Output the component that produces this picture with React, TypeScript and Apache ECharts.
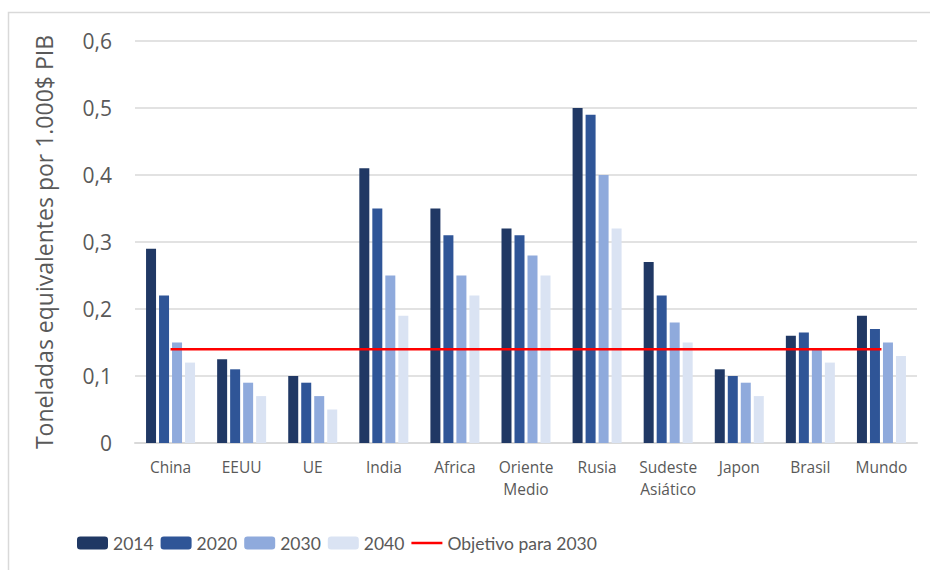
import React, { useEffect, useRef } from "react";
import * as echarts from "echarts";

const categories = ["China", "EEUU", "UE", "India", "Africa", "Oriente\nMedio", "Rusia", "Sudeste\nAsiático", "Japon", "Brasil", "Mundo"];
const s2014 = [0.29, 0.125, 0.10, 0.41, 0.35, 0.32, 0.50, 0.27, 0.11, 0.16, 0.19];
const s2020 = [0.22, 0.11, 0.09, 0.35, 0.31, 0.31, 0.49, 0.22, 0.10, 0.165, 0.17];
const s2030 = [0.15, 0.09, 0.07, 0.25, 0.25, 0.28, 0.40, 0.18, 0.09, 0.14, 0.15];
const s2040 = [0.12, 0.07, 0.05, 0.19, 0.22, 0.25, 0.32, 0.15, 0.07, 0.12, 0.13];
const objetivo = [0.14, 0.14, 0.14, 0.14, 0.14, 0.14, 0.14, 0.14, 0.14, 0.14, 0.14];
const seriesNames = ["2014", "2020", "2030", "2040"];
const lineName = "Objetivo para 2030";
const yTitle = "Toneladas equivalentes por 1.000$ PIB";

export default function App() {
  const ref = useRef<HTMLDivElement>(null);
  useEffect(() => {
    if (!ref.current) return;
    const chart = echarts.init(ref.current, null, { renderer: "svg" });
    const colors = ["#203864", "#2F5597", "#8FAADC", "#DAE3F3"];
    const barData = [s2014, s2020, s2030, s2040];
    const font = "'Open Sans', 'Noto Sans', sans-serif";
    chart.setOption({
      animation: false,
      backgroundColor: "#ffffff",
      graphic: [
        {
          type: "rect",
          shape: { x: 8.5, y: 12.5, width: 940, height: 580 },
          style: { fill: "none", stroke: "#D9D9D9", lineWidth: 1.5 },
          silent: true,
        },
      ],
      grid: { left: 135, right: 13, top: 41, bottom: 127 },
      legend: {
        left: 77,
        top: 534,
        padding: 0,
        itemWidth: 31,
        itemHeight: 13,
        itemGap: 7,
        textStyle: { fontFamily: "Lato, 'Open Sans', sans-serif", fontSize: 17.5, color: "#595959" },
        data: [
          ...seriesNames,
          { name: lineName, icon: "path://M0,0 L31,0 L31,2.5 L0,2.5 Z" },
        ],
      },
      xAxis: {
        type: "category",
        data: categories,
        axisLine: { lineStyle: { color: "#D9D9D9", width: 2 } },
        axisTick: { show: false },
        axisLabel: { fontFamily: font, fontSize: 15.5, color: "#595959", margin: 13, lineHeight: 22, interval: 0 },
      },
      yAxis: {
        type: "value",
        min: 0,
        max: 0.6,
        interval: 0.1,
        name: yTitle,
        nameLocation: "middle",
        nameGap: 80,
        nameTextStyle: { fontFamily: font, fontSize: 23, color: "#595959" },
        axisLine: { show: false },
        axisTick: { show: false },
        axisLabel: {
          fontFamily: font,
          fontSize: 21,
          color: "#595959",
          margin: 23,
          formatter: (v: number) => (v === 0 ? "0" : v.toFixed(1).replace(".", ",")),
        },
        splitLine: { lineStyle: { color: "#D9D9D9", width: 1.5 } },
      },
      series: [
        ...barData.map((d, i) => ({
          name: seriesNames[i],
          type: "bar",
          data: d,
          barWidth: 10,
          barGap: "30%",
          itemStyle: { color: colors[i] },
        })),
        {
          name: lineName,
          type: "line",
          data: objetivo,
          symbol: "none",
          z: 10,
          lineStyle: { color: "#FF0000", width: 2.5 },
          itemStyle: { color: "#FF0000" },
        },
      ],
    });
    return () => chart.dispose();
  }, []);
  return <div ref={ref} style={{ width: 930, height: 570, position: "absolute", left: 0, top: 0 }} />;
}
